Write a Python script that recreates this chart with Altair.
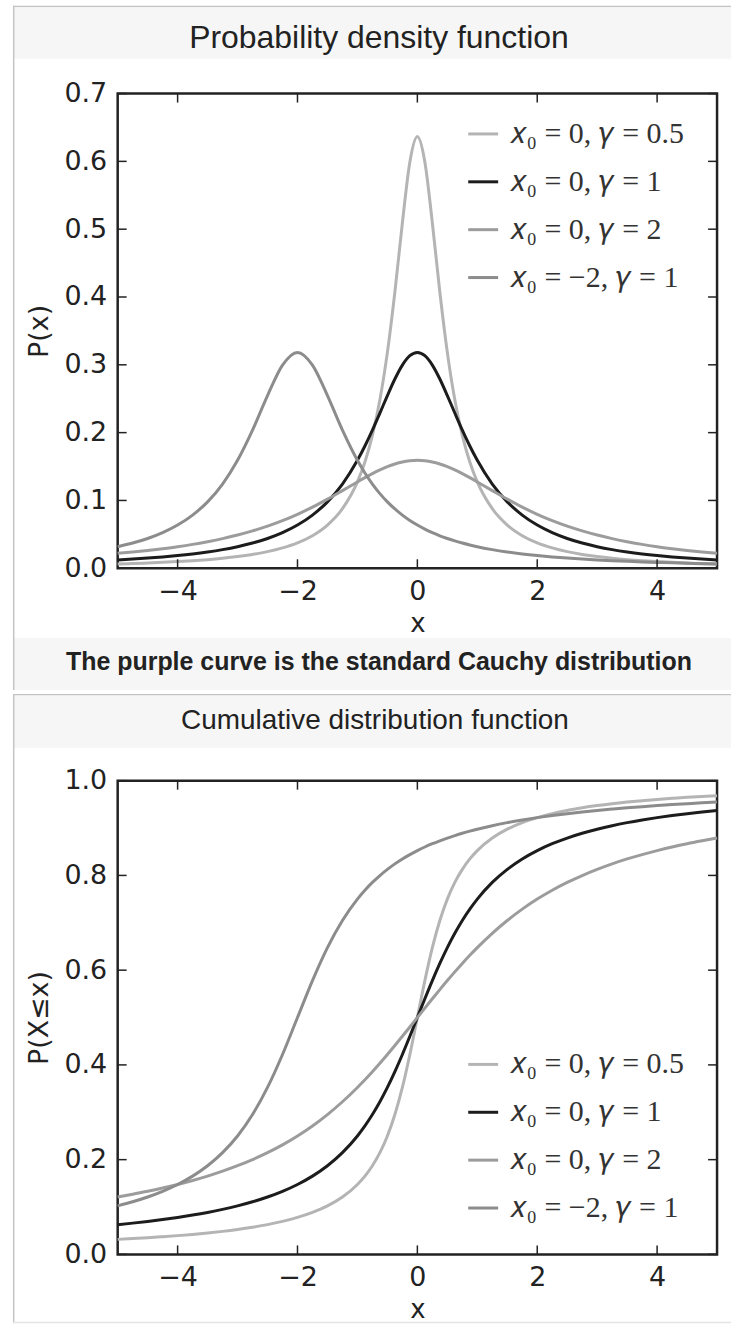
import altair as alt
import pandas as pd

# ---------------- data ----------------
X = [-5, -4.75, -4.5, -4.25, -4, -3.75, -3.5, -3.25, -3, -2.75, -2.5, -2.25, -2, -1.75, -1.5, -1.25, -1,
     -0.875, -0.75, -0.625, -0.5, -0.375, -0.25, -0.125, 0, 0.125, 0.25, 0.375, 0.5, 0.625, 0.75, 0.875,
     1, 1.25, 1.5, 1.75, 2, 2.25, 2.5, 2.75, 3, 3.25, 3.5, 3.75, 4, 4.25, 4.5, 4.75, 5]

PDF_G05 = [0.0063, 0.0070, 0.0078, 0.0087, 0.0098, 0.0111, 0.0127, 0.0147, 0.0172, 0.0204, 0.0245, 0.0300, 0.0374, 0.0480, 0.0637, 0.0878, 0.1273,
           0.1567, 0.1959, 0.2484, 0.3183, 0.4074, 0.5093, 0.5992, 0.6366, 0.5992, 0.5093, 0.4074, 0.3183, 0.2484, 0.1959, 0.1567,
           0.1273, 0.0878, 0.0637, 0.0480, 0.0374, 0.0300, 0.0245, 0.0204, 0.0172, 0.0147, 0.0127, 0.0111, 0.0098, 0.0087, 0.0078, 0.0070, 0.0063]
PDF_G1 = [0.0122, 0.0135, 0.0150, 0.0167, 0.0187, 0.0211, 0.0240, 0.0275, 0.0318, 0.0372, 0.0439, 0.0525, 0.0637, 0.0784, 0.0979, 0.1242, 0.1592,
          0.1803, 0.2037, 0.2289, 0.2546, 0.2791, 0.2996, 0.3134, 0.3183, 0.3134, 0.2996, 0.2791, 0.2546, 0.2289, 0.2037, 0.1803,
          0.1592, 0.1242, 0.0979, 0.0784, 0.0637, 0.0525, 0.0439, 0.0372, 0.0318, 0.0275, 0.0240, 0.0211, 0.0187, 0.0167, 0.0150, 0.0135, 0.0122]
PDF_G2 = [0.0220, 0.0240, 0.0263, 0.0289, 0.0318, 0.0352, 0.0392, 0.0437, 0.0490, 0.0551, 0.0621, 0.0702, 0.0796, 0.0901, 0.1019, 0.1145, 0.1273,
          0.1336, 0.1395, 0.1450, 0.1498, 0.1537, 0.1567, 0.1585, 0.1592, 0.1585, 0.1567, 0.1537, 0.1498, 0.1450, 0.1395, 0.1336,
          0.1273, 0.1145, 0.1019, 0.0901, 0.0796, 0.0702, 0.0621, 0.0551, 0.0490, 0.0437, 0.0392, 0.0352, 0.0318, 0.0289, 0.0263, 0.0240, 0.0220]
PDF_SHIFT = [0.0318, 0.0372, 0.0439, 0.0525, 0.0637, 0.0784, 0.0979, 0.1242, 0.1592, 0.2037, 0.2546, 0.2996, 0.3183, 0.2996, 0.2546, 0.2037, 0.1592,
             0.1405, 0.1242, 0.1101, 0.0979, 0.0874, 0.0784, 0.0705, 0.0637, 0.0577, 0.0525, 0.0479, 0.0439, 0.0403, 0.0372, 0.0344,
             0.0318, 0.0275, 0.0240, 0.0211, 0.0187, 0.0167, 0.0150, 0.0135, 0.0122, 0.0111, 0.0102, 0.0093, 0.0086, 0.0080, 0.0074, 0.0068, 0.0064]

CDF_G05 = [0.0317, 0.0334, 0.0352, 0.0373, 0.0396, 0.0422, 0.0452, 0.0486, 0.0526, 0.0573, 0.0628, 0.0696, 0.0780, 0.0886, 0.1024, 0.1211, 0.1476,
           0.1652, 0.1872, 0.2148, 0.2500, 0.2952, 0.3524, 0.4220, 0.5000, 0.5780, 0.6476, 0.7048, 0.7500, 0.7852, 0.8128, 0.8348,
           0.8524, 0.8789, 0.8976, 0.9114, 0.9220, 0.9304, 0.9372, 0.9427, 0.9474, 0.9514, 0.9548, 0.9578, 0.9604, 0.9627, 0.9648, 0.9666, 0.9683]
CDF_G1 = [0.0628, 0.0660, 0.0696, 0.0736, 0.0780, 0.0830, 0.0886, 0.0950, 0.1024, 0.1110, 0.1211, 0.1331, 0.1476, 0.1652, 0.1872, 0.2148, 0.2500,
          0.2712, 0.2952, 0.3222, 0.3524, 0.3858, 0.4220, 0.4604, 0.5000, 0.5396, 0.5780, 0.6142, 0.6476, 0.6778, 0.7048, 0.7288,
          0.7500, 0.7852, 0.8128, 0.8348, 0.8524, 0.8669, 0.8789, 0.8890, 0.8976, 0.9050, 0.9114, 0.9170, 0.9220, 0.9264, 0.9304, 0.9340, 0.9372]
CDF_G2 = [0.1211, 0.1269, 0.1331, 0.1400, 0.1476, 0.1560, 0.1652, 0.1756, 0.1872, 0.2002, 0.2148, 0.2313, 0.2500, 0.2712, 0.2952, 0.3222, 0.3524,
          0.3687, 0.3858, 0.4036, 0.4220, 0.4410, 0.4604, 0.4801, 0.5000, 0.5199, 0.5396, 0.5590, 0.5780, 0.5964, 0.6142, 0.6313,
          0.6476, 0.6778, 0.7048, 0.7288, 0.7500, 0.7687, 0.7852, 0.7998, 0.8128, 0.8244, 0.8348, 0.8440, 0.8524, 0.8600, 0.8669, 0.8731, 0.8789]
CDF_SHIFT = [0.1024, 0.1110, 0.1211, 0.1331, 0.1476, 0.1652, 0.1872, 0.2148, 0.2500, 0.2952, 0.3524, 0.4220, 0.5000, 0.5780, 0.6476, 0.7048, 0.7500,
             0.7687, 0.7852, 0.7998, 0.8128, 0.8244, 0.8348, 0.8440, 0.8524, 0.8600, 0.8669, 0.8731, 0.8789, 0.8841, 0.8890, 0.8935,
             0.8976, 0.9050, 0.9114, 0.9170, 0.9220, 0.9264, 0.9304, 0.9340, 0.9372, 0.9401, 0.9428, 0.9452, 0.9474, 0.9495, 0.9514, 0.9532, 0.9548]

LABELS = ["𝑥₀ = 0,  𝛾 = 0.5", "𝑥₀ = 0,  𝛾 = 1", "𝑥₀ = 0,  𝛾 = 2", "𝑥₀ = −2,  𝛾 = 1"]
COLORS = ["#b4b4b4", "#1c1c1c", "#9c9c9c", "#8c8c8c"]

X_TICKS = [-4, -2, 0, 2, 4]
PDF_Y_TICKS = [0.0, 0.1, 0.2, 0.3, 0.4, 0.5, 0.6, 0.7]
CDF_Y_TICKS = [0.0, 0.2, 0.4, 0.6, 0.8, 1.0]

TITLE_PDF = "Probability density function"
TITLE_CDF = "Cumulative distribution function"
CAPTION = "The purple curve is the standard Cauchy distribution"

# ---------------- layout constants ----------------
W = 601
H1 = 476
H2 = 475
BAND = "#f6f6f6"
EDGE = "#c4c4c4"
INK = "#222222"


def long_df(series):
    rows = []
    for i, (lab, vals) in enumerate(zip(LABELS, series)):
        for xv, yv in zip(X, vals):
            rows.append({"x": xv, "y": yv, "series": lab, "o": i})
    return pd.DataFrame(rows)


one = pd.DataFrame({"k": [0]})


def rect(x1, x2, y1, y2, color):
    return alt.Chart(one).mark_rect(color=color).encode(
        x=alt.value(x1), x2=alt.value(x2), y=alt.value(y1), y2=alt.value(y2))


def text(t, x, y, size, weight="normal"):
    return alt.Chart(one).mark_text(text=t, font="Liberation Sans", fontSize=size, fontWeight=weight,
                                    color=INK, align="center", baseline="middle").encode(
        x=alt.value(x), y=alt.value(y))


def panel(series, H, ymax, yticks, yfmt, ytitle, legend_y):
    df = long_df(series)
    lines = alt.Chart(df).mark_line(interpolate="monotone", strokeWidth=3).encode(
        x=alt.X("x:Q", scale=alt.Scale(domain=[-5, 5], nice=False, zero=False),
                axis=alt.Axis(values=X_TICKS, format="d", title="x", labelFlush=False,
                              labelPadding=10, titlePadding=6, titleFontSize=26)),
        y=alt.Y("y:Q", scale=alt.Scale(domain=[0, ymax], nice=False),
                axis=alt.Axis(values=yticks, format=yfmt, title=ytitle, labelFlush=False,
                              labelPadding=11, titlePadding=10)),
        color=alt.Color("series:N", scale=alt.Scale(domain=LABELS, range=COLORS),
                        legend=alt.Legend(title=None, orient="none", legendX=350, legendY=legend_y)),
        order="o:Q",
    )
    xt = pd.DataFrame({"x": X_TICKS})
    yt = pd.DataFrame({"y": yticks})
    tick = dict(color=INK, strokeWidth=1.5)
    t_bottom = alt.Chart(xt).mark_rule(**tick).encode(x="x:Q", y=alt.value(H), y2=alt.value(H - 9))
    t_top = alt.Chart(xt).mark_rule(**tick).encode(x="x:Q", y=alt.value(0), y2=alt.value(9))
    t_left = alt.Chart(yt).mark_rule(**tick).encode(y="y:Q", x=alt.value(0), x2=alt.value(9))
    t_right = alt.Chart(yt).mark_rule(**tick).encode(y="y:Q", x=alt.value(W - 9), x2=alt.value(W))
    return [lines, t_bottom, t_top, t_left, t_right]


# PDF panel: origin at page (118, 93)
pdf_layers = [
    rect(-105, 615, -88, -86.5, EDGE),          # top border
    rect(-105, 615, -86.5, -35, BAND),          # title band
    rect(-105, 615, 546, 598, BAND),            # caption band
    rect(-105, -103.5, -88, 598, EDGE),         # left border
    text(TITLE_PDF, 262, -56, 32),
    text(CAPTION, 262, 570, 25, "bold"),
] + panel([PDF_G05, PDF_G1, PDF_G2, PDF_SHIFT], H1, 0.7, PDF_Y_TICKS, ".1f", "P(x)", 24)

pdf = alt.layer(*pdf_layers).properties(width=W, height=H1)

# CDF panel: origin at page (118, 778)
cdf_layers = [
    rect(-105, 615, -87, -85.5, EDGE),          # separator
    rect(-105, 615, -85.5, -33, BAND),          # title band
    rect(-105, -103.5, -87, 544, EDGE),         # left border
    rect(-105, 615, 542.5, 544, "#e4e4e4"),     # bottom border
    text(TITLE_CDF, 258, -60, 28),
] + panel([CDF_G05, CDF_G1, CDF_G2, CDF_SHIFT], H2, 1.0, CDF_Y_TICKS, ".1f", "P(X≤x)", 268)

cdf = alt.layer(*cdf_layers).properties(width=W, height=H2)

chart = alt.vconcat(pdf, cdf, spacing=0).resolve_scale(color="independent").resolve_legend(
    color="independent"
).properties(
    padding={"left": 11, "top": 2, "right": 0, "bottom": 0},
    background="white",
).configure_view(
    stroke=INK, strokeWidth=2.5
).configure_axis(
    labelFont="DejaVu Sans", labelFontSize=27, labelColor=INK,
    titleFont="DejaVu Sans", titleFontSize=27, titleFontWeight="normal", titleColor=INK,
    grid=False, domain=False, ticks=False, tickSize=0,
).configure_legend(
    labelFont="Liberation Serif", labelFontSize=30, labelColor="#333333",
    symbolType="stroke", symbolStrokeWidth=3, symbolSize=900, rowPadding=16,
    labelOffset=10, padding=0, labelLimit=0,
)

chart.save("out.html", embed_options={"renderer": "svg", "actions": False})
